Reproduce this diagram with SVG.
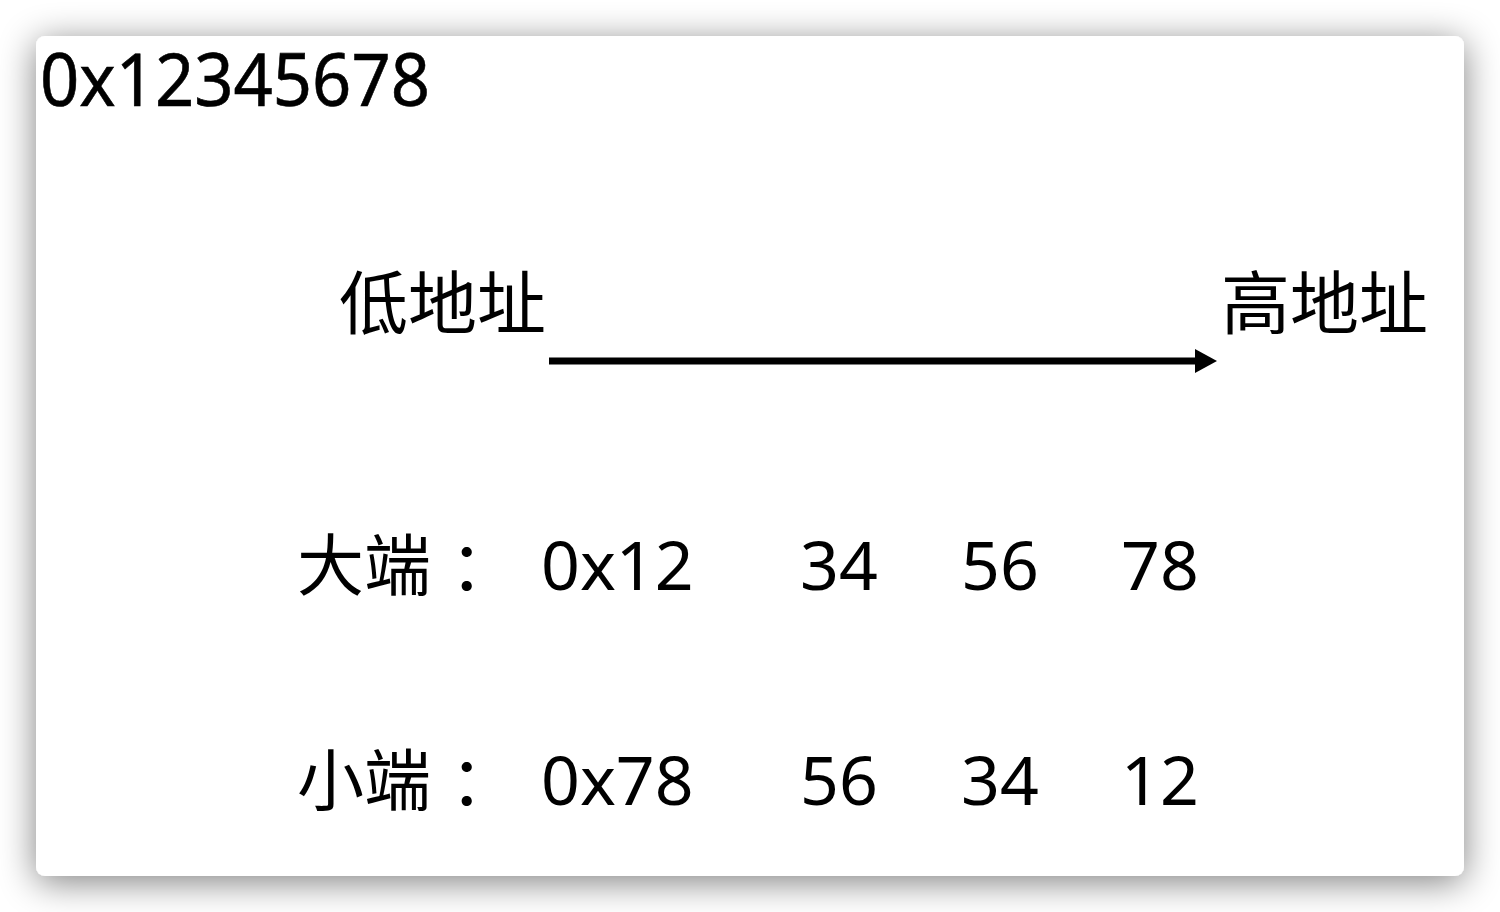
<svg xmlns="http://www.w3.org/2000/svg" width="1500" height="912" viewBox="0 0 1500 912">
<defs>
<filter id="sh" x="-10%" y="-15%" width="120%" height="130%">
<feGaussianBlur in="SourceAlpha" stdDeviation="18"/>
<feOffset dx="0" dy="6"/>
<feComponentTransfer><feFuncA type="linear" slope="0.5"/></feComponentTransfer>
<feMerge><feMergeNode/><feMergeNode in="SourceGraphic"/></feMerge>
</filter>
<marker id="ah" markerWidth="22" markerHeight="26" refX="0" refY="13" orient="auto" markerUnits="userSpaceOnUse">
<path d="M0,1 L22,13 L0,25 Z" fill="#000"/>
</marker>
<style>
.t{font-family:"Noto Sans","Noto Sans CJK SC",sans-serif;fill:#000}
.cn{font-family:"Noto Sans CJK SC",sans-serif;fill:#000}
</style>
</defs>
<rect width="1500" height="912" fill="#fff"/>
<rect x="36" y="36" width="1428" height="840" rx="9" fill="#fff" filter="url(#sh)"/>
<g id="title"><text class="t" x="40" y="106" font-size="73" textLength="390" lengthAdjust="spacingAndGlyphs" stroke="#000" stroke-width="0.6">0x12345678</text></g>
<g id="low"><text class="cn" x="339" y="329" font-size="69">低地址</text></g>
<g id="high"><text class="cn" x="1221" y="329" font-size="69">高地址</text></g>
<g id="connectors"><line x1="549" y1="361" x2="1195" y2="361" stroke="#000" stroke-width="7" marker-end="url(#ah)"/></g>
<g id="big">
<text class="cn" x="297" y="590" font-size="67">大端</text>
<text class="cn" x="450" y="590" font-size="67">：</text>
<text class="t" x="541" y="590" font-size="68">0x12</text>
<text class="t" x="800" y="590" font-size="68">34</text>
<text class="t" x="961" y="590" font-size="68">56</text>
<text class="t" x="1121" y="590" font-size="68">78</text>
</g>
<g id="little">
<text class="cn" x="297" y="805" font-size="67">小端</text>
<text class="cn" x="450" y="805" font-size="67">：</text>
<text class="t" x="541" y="805" font-size="68">0x78</text>
<text class="t" x="800" y="805" font-size="68">56</text>
<text class="t" x="961" y="805" font-size="68">34</text>
<text class="t" x="1121" y="805" font-size="68">12</text>
</g>
</svg>
